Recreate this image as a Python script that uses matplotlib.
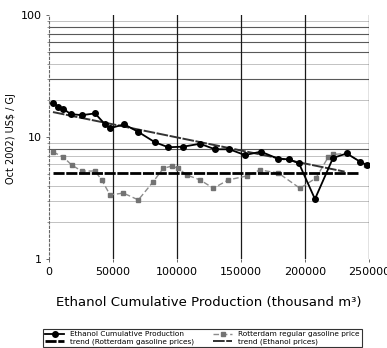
"""
ethanol learning curve vs rotterdam gasoline price (log y)
"""
import matplotlib
matplotlib.use("Agg")
import matplotlib.pyplot as plt
from matplotlib.ticker import FixedLocator, NullFormatter

# ethanol cumulative production (thousand m3) and price (US$/GJ)
eth_x = [3400, 7300, 11200, 17000, 25500, 36000, 43800, 47700, 58800, 69800,
         82800, 93200, 104900, 118000, 129700, 140900, 153100, 165600, 178900,
         187700, 195300, 207800, 221900, 232600, 243000, 248200]
eth_y = [18.9, 17.7, 17.0, 15.4, 15.1, 15.6, 12.7, 11.8, 12.7, 11.0,
         9.05, 8.24, 8.33, 8.8, 7.93, 7.93, 7.11, 7.58, 6.64,
         6.56, 6.08, 3.10, 6.73, 7.33, 6.28, 5.89]

gas_x = [3100, 11200, 17700, 25500, 35900, 41200, 47700, 58100, 69800, 81500,
         89300, 96100, 100800, 107600, 118000, 128400, 140100, 154500, 164800,
         179100, 196100, 208600, 218200, 222100, 232600, 243000, 247700]
gas_y = [7.54, 6.85, 5.89, 5.26, 5.26, 4.45, 3.35, 3.47, 3.05, 4.31,
         5.54, 5.78, 5.54, 4.89, 4.45, 3.80, 4.45, 4.79, 5.37,
         5.07, 3.80, 4.61, 6.85, 7.19, 7.35, 6.28, 5.89]

eth_trend_x = [3100, 231000]
eth_trend_y = [16.0, 5.2]
gas_trend_x = [3000, 241500]
gas_trend_y = [5.1, 5.1]

x_ticks = [0, 50000, 100000, 150000, 200000, 250000]
y_ticks = [1, 10, 100]
grid_dark = [8, 30, 50, 60, 70, 80]
grid_light = [2, 3, 4, 6, 7, 9, 20, 40, 90]

fig = plt.figure(figsize=(3.87, 3.48), dpi=100)
ax = fig.add_axes([0.1266, 0.2557, 0.8268, 0.7013])

for v in grid_light:
    ax.axhline(v, color='0.72', lw=0.6, zorder=0)
for v in grid_dark:
    ax.axhline(v, color='0.35', lw=0.8, zorder=0)
for v in x_ticks[1:]:
    ax.axvline(v, color='0.1', lw=0.9, zorder=0)

ax.plot(gas_x, gas_y, color='0.55', lw=1.0, ls=(0, (4, 2)), marker='s', ms=2.5,
        mfc='0.45', mec='0.45', label='Rotterdam regular gasoline price', zorder=2)
ax.plot(gas_trend_x, gas_trend_y, color='black', lw=2.0, ls=(0, (4, 0.6)),
        label='trend (Rotterdam gasoline prices)', zorder=3)
ax.plot(eth_trend_x, eth_trend_y, color='0.2', lw=1.4, ls=(0, (6, 0.8)),
        label='trend (Ethanol prices)', zorder=3)
ax.plot(eth_x, eth_y, color='black', lw=1.3, marker='o', ms=4,
        label='Ethanol Cumulative Production', zorder=4)

ax.set_yscale('log')
ax.set_ylim(1, 100)
ax.set_xlim(0, 250000)
ax.yaxis.set_major_locator(FixedLocator(y_ticks))
ax.set_yticklabels([str(v) for v in y_ticks])
ax.yaxis.set_minor_formatter(NullFormatter())
ax.set_xticks(x_ticks)
ax.set_xticklabels([str(v) for v in x_ticks])
ax.tick_params(labelsize=8, length=2, width=0.6, color='0.3')
ax.tick_params(which='minor', length=1.5, width=0.5, color='0.4')

for s in ['top', 'bottom', 'right']:
    ax.spines[s].set_visible(False)
ax.spines['left'].set_linestyle((0, (2, 2)))
ax.spines['left'].set_color('0.4')

ax.set_xlabel('Ethanol Cumulative Production (thousand m\u00b3)', fontsize=9.5, labelpad=14)
fig.text(0.028, 0.603, 'Oct 2002) US$ / GJ', rotation=90, fontsize=7,
         ha='center', va='center')

h, l = ax.get_legend_handles_labels()
order = [3, 1, 0, 2]
leg = fig.legend([h[i] for i in order], [l[i] for i in order], loc='upper left',
                 bbox_to_anchor=(0.111, 0.0546, 0.824, 0), mode='expand', ncol=2,
                 fontsize=5.3, frameon=True, fancybox=False, borderpad=0.3,
                 borderaxespad=0, handlelength=2.6, labelspacing=0.1,
                 columnspacing=1.0)
leg.get_frame().set_edgecolor('black')
leg.get_frame().set_linewidth(0.8)

fig.savefig('out.png', dpi=100)
